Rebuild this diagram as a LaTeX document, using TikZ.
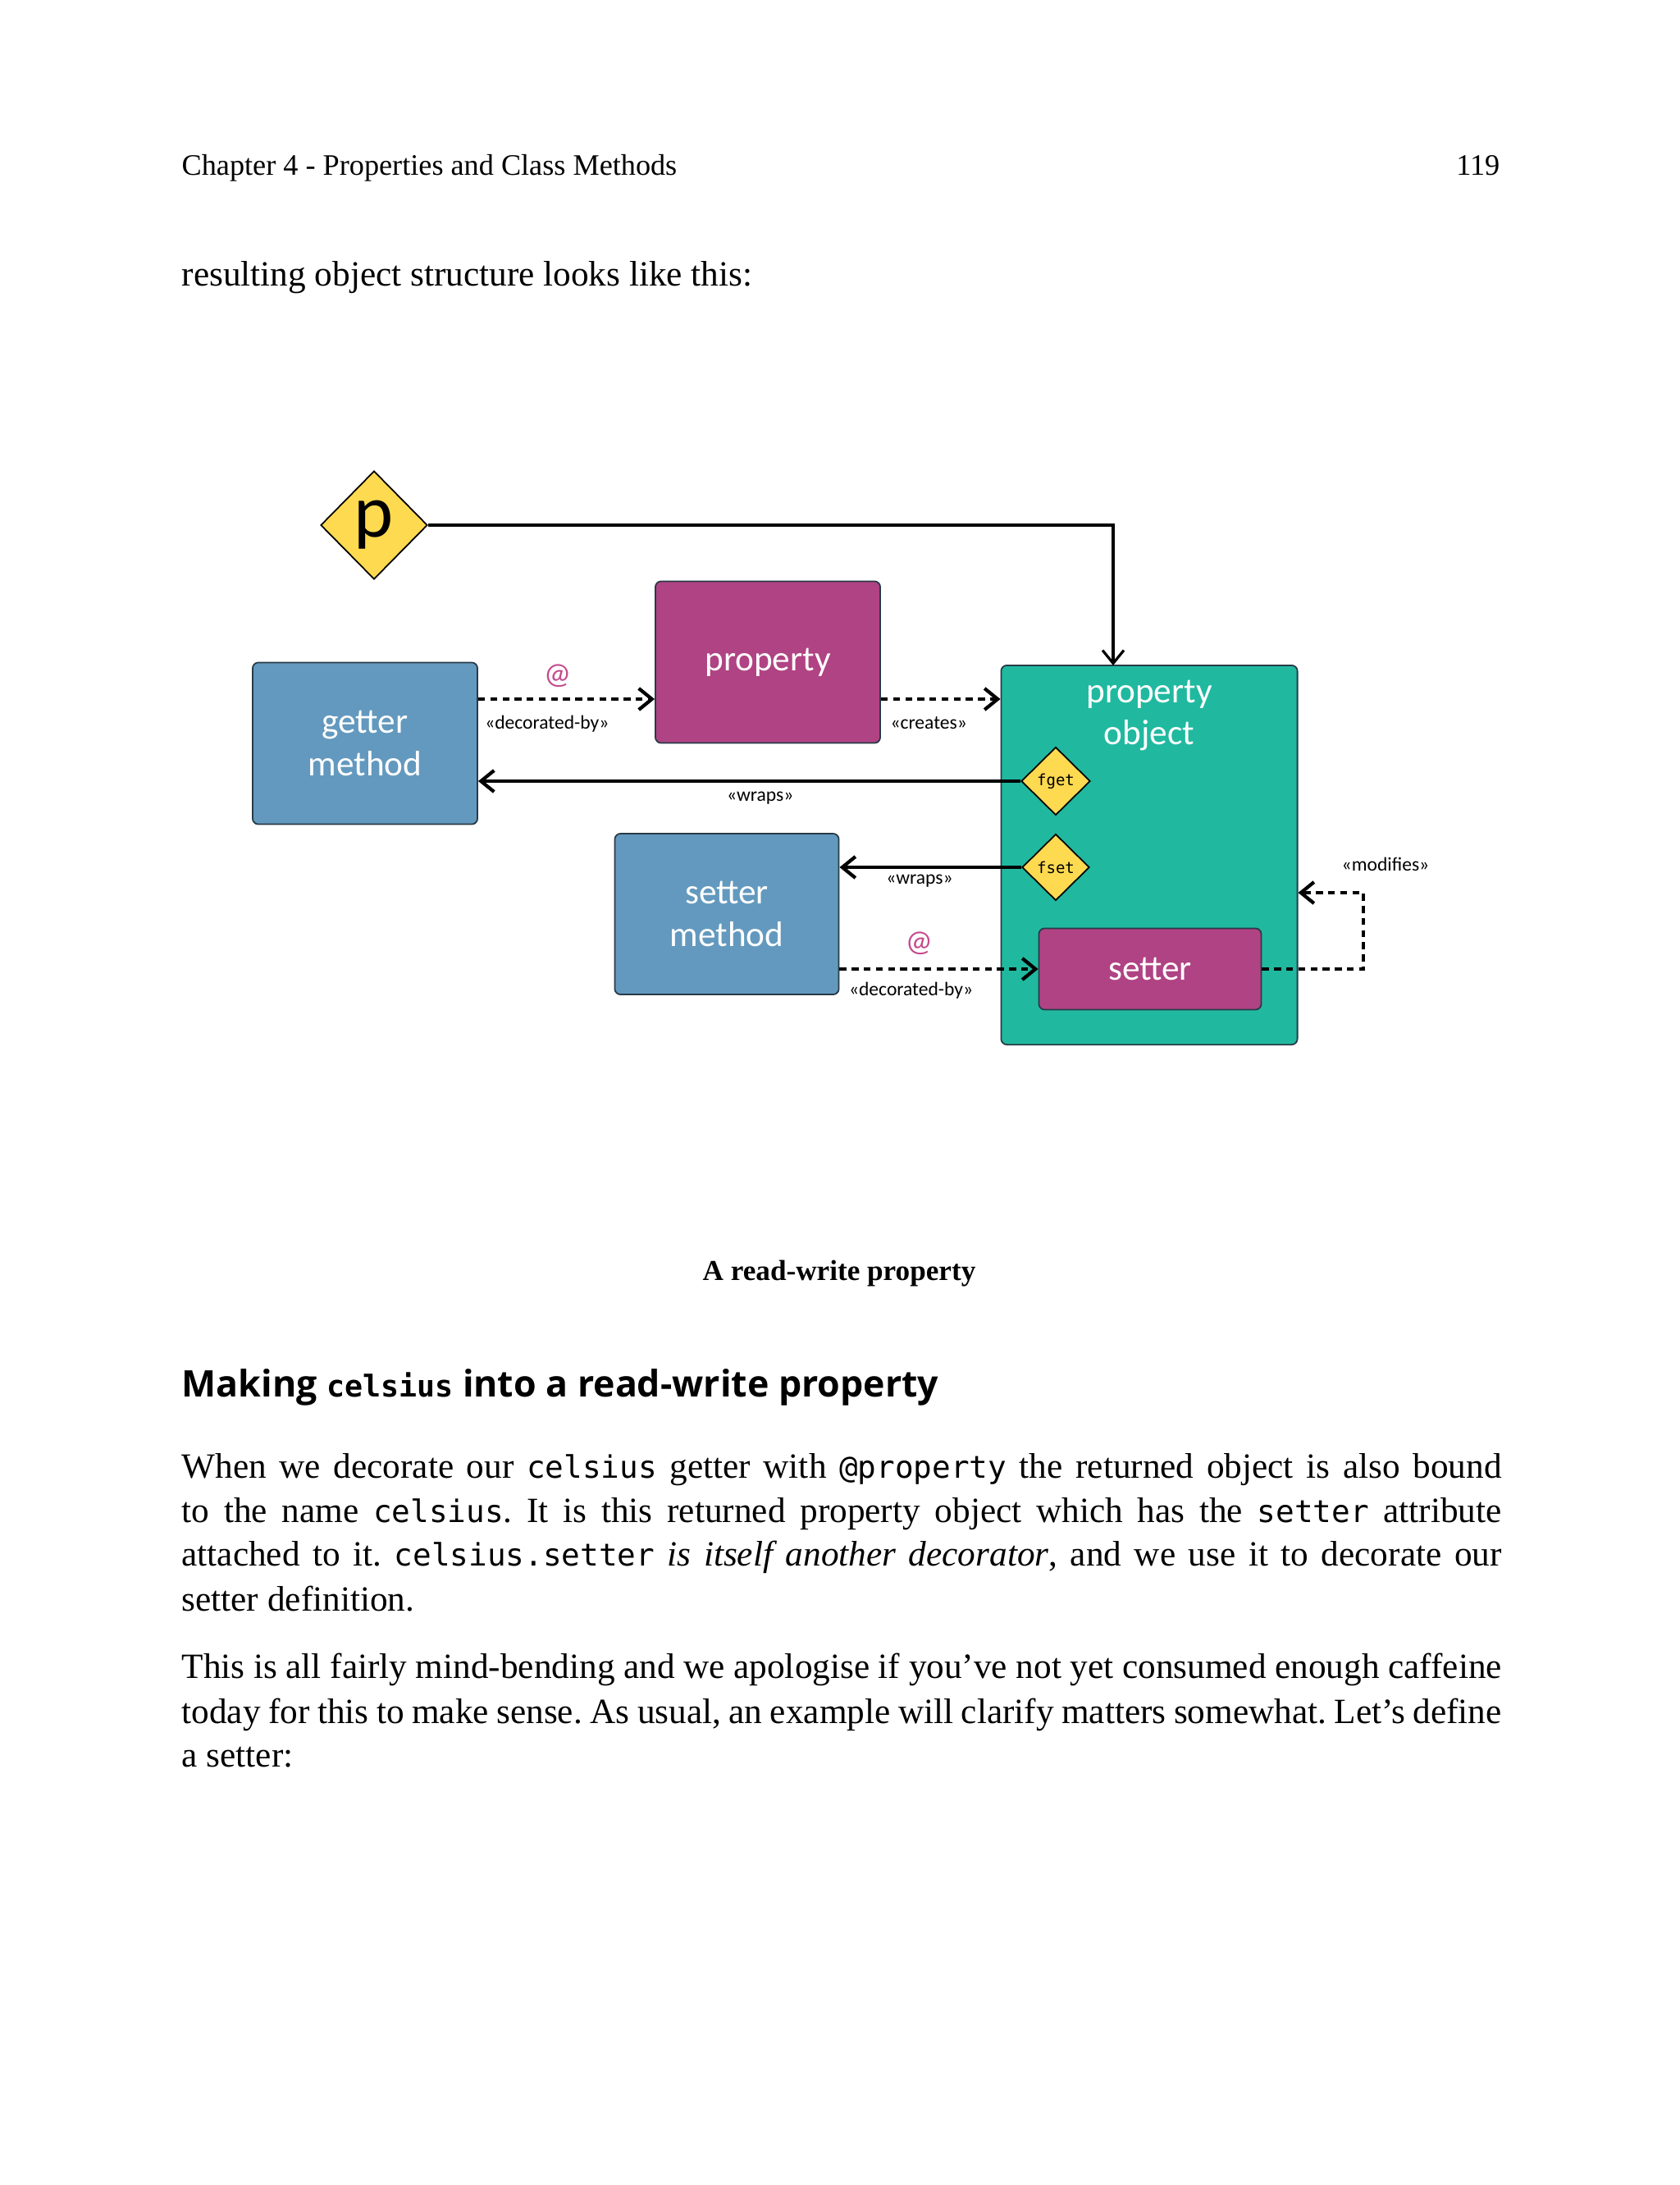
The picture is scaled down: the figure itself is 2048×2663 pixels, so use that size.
\documentclass[tikz,border=0pt]{standalone}
\usepackage{fontspec}
\setmainfont{Liberation Serif}
\setsansfont{Open Sans}
\setmonofont{DejaVu Sans Mono}
\newfontfamily\diafont{Carlito}
\usetikzlibrary{shapes.geometric}
\usetikzlibrary{arrows.meta}

\definecolor{getblue}{RGB}{99,153,190}
\definecolor{propmagenta}{RGB}{176,67,131}
\definecolor{objteal}{RGB}{32,185,160}
\definecolor{gemyellow}{RGB}{253,218,80}
\definecolor{atpink}{RGB}{196,75,140}
\definecolor{boxline}{RGB}{40,58,70}

\newcommand{\code}[1]{{\ttfamily\fontsize{10.7}{13}\selectfont #1}}
\newcommand{\jline}[1]{\makebox[16.08cm][s]{#1}}
\frenchspacing

\begin{document}
\begin{tikzpicture}[x=0.01cm,y=-0.01cm,>={Straight Barb[length=1.6mm,width=2.6mm]},
  box/.style={draw=boxline,rounded corners=2pt,line width=0.5pt,inner sep=0pt,
    text=white,align=center,font=\diafont\fontsize{12.3}{14.6}\selectfont},
  gem/.style={diamond,draw=black,fill=gemyellow,inner sep=0pt,line width=0.5pt},
  dep/.style={->,line width=1.2pt,dash pattern=on 2.4pt off 1.8pt},
  wrap/.style={->,line width=1.2pt},
  lbl/.style={inner sep=0pt,font=\diafont\fontsize{6.7}{8}\selectfont},
  atsign/.style={inner sep=0pt,text=atpink,font=\diafont\fontsize{10.5}{12}\selectfont},
  body/.style={anchor=base west,inner sep=0pt,font=\fontsize{12.3}{15}\selectfont}]
\useasboundingbox (0,0) rectangle (2048,2663);
\fill[white] (0,0) rectangle (2048,2663);

%Page header
  \node[anchor=base west,inner sep=0pt,font=\fontsize{10.3}{12}\selectfont] (header) at (221,213) {Chapter 4 - Properties and Class Methods};
  \node[anchor=base east,inner sep=0pt,font=\fontsize{10.3}{12}\selectfont] (pageno) at (1829,213) {119};
  \node[body] (intro) at (221,348) {resulting object structure looks like this:};

%Boxes
  \node[box,fill=objteal,minimum width=3.61cm,minimum height=4.62cm] (pobj) at (1401,1042) {};
  \node[box,draw=none] (pobjname) at (1401,872) {property\\object};
  \node[box,fill=getblue,minimum width=2.74cm,minimum height=1.97cm] (getter) at (445,906) {getter\\method};
  \node[box,fill=propmagenta,minimum width=2.74cm,minimum height=1.97cm] (property) at (936,807) {property};
  \node[box,fill=getblue,minimum width=2.73cm,minimum height=1.96cm] (smeth) at (886,1114) {setter\\method};
  \node[box,fill=propmagenta,minimum width=2.71cm,minimum height=0.99cm] (setter) at (1402,1181) {setter};

%Diamonds
  \node[gem,minimum width=1.30cm,minimum height=1.32cm,font=\diafont\fontsize{26}{26}\selectfont] (p) at (456,640) {p};
  \node[gem,minimum width=0.84cm,minimum height=0.83cm,font=\ttfamily\fontsize{5.4}{6}\selectfont] (fget) at (1287,952) {fget};
  \node[gem,minimum width=0.82cm,minimum height=0.81cm,font=\ttfamily\fontsize{5.4}{6}\selectfont] (fset) at (1287,1057) {fset};

  \coordinate (row1) at (0,852);
  \coordinate (ptop) at (1357,811);
  \coordinate (mod) at (1662,1088);

%Connectors
  \draw[->,line width=0.9pt] (p.east) -| (ptop);
  \draw[dep] (getter.east |- row1) -- node[atsign,pos=0.45,above=0.12cm] (at1) {@}
    node[lbl,pos=0.39,below=0.18cm] (decby1) {«decorated-by»} (property.west |- row1);
  \draw[dep] (property.east |- row1) -- node[lbl,pos=0.4,below=0.19cm] (creates) {«creates»} (pobj.west |- row1);
  \draw[wrap] (fget.west) -- node[lbl,pos=0.48,below=0.11cm] (wraps1) {«wraps»} (getter.east |- fget);
  \draw[wrap] (fset.west) -- node[lbl,pos=0.56,below=0.07cm] (wraps2) {«wraps»} (smeth.east |- fset);
  \draw[dep] (smeth.east |- setter.west) -- node[atsign,pos=0.4,above=0.15cm] (at2) {@}
    node[lbl,pos=0.36,below=0.14cm] (decby2) {«decorated-by»} (setter.west);
  \draw[dep] (setter.east) -| (mod) node[lbl,above=0.24cm,xshift=0.27cm] (modifies) {«modifies»} -- (pobj.east |- mod);

%Caption and text
  \node[anchor=base,inner sep=0pt,font=\bfseries\fontsize{10}{12}\selectfont] (caption) at (1023,1560) {A read-write property};
  \node[anchor=base west,inner sep=0pt,font=\sffamily\bfseries\fontsize{12.7}{15}\selectfont] (heading) at (221,1702)
    {Making {\ttfamily\fontsize{10.4}{12}\selectfont celsius} into a read-write property};

  \node[body] (l1) at (221,1801) {\jline{When we decorate our \code{celsius} getter with \code{@property} the returned object is also bound}};
  \node[body] (l2) at (221,1855) {\jline{to the name \code{celsius}. It is this returned property object which has the \code{setter} attribute}};
  \node[body] (l3) at (221,1908) {\jline{attached to it. \code{celsius.setter} \textit{is itself another decorator}, and we use it to decorate our}};
  \node[body] (l4) at (221,1963) {setter definition.};
  \node[body] (l5) at (221,2045) {\jline{This is all fairly mind-bending and we apologise if you’ve not yet consumed enough caffeine}};
  \node[body] (l6) at (221,2100) {\jline{today for this to make sense. As usual, an example will clarify matters somewhat. Let’s define}};
  \node[body] (l7) at (221,2153) {a setter:};
\end{tikzpicture}
\end{document}
